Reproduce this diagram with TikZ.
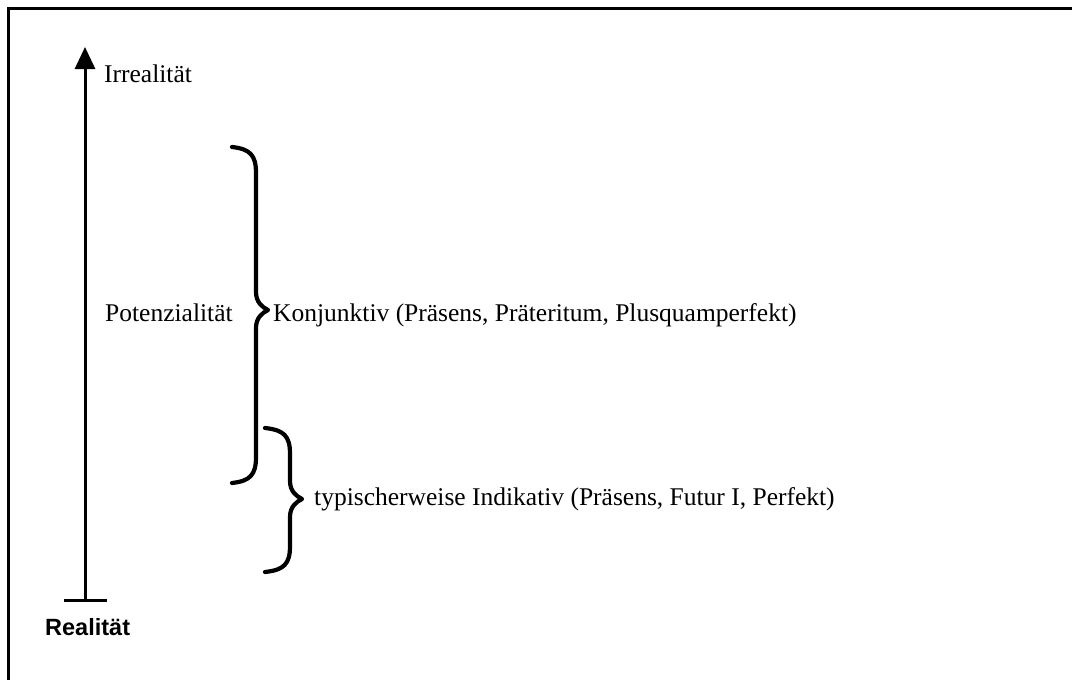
\documentclass[tikz,border=0pt]{standalone}
\usepackage{fontspec}
\setmainfont{Liberation Serif}
\newfontfamily\realfont{Liberation Sans}
\usetikzlibrary{arrows.meta, positioning}
% geschweifte Klammer: #1 Enden, #2 Koerper, #3 oben, #4 Spitze, #5 unten
\newcommand{\klammer}[5]{%
  \draw[klammerstrich] (#1,#3) .. controls (#2-6,#3+2) and (#2,#3+8) .. (#2,#3+26)
    -- (#2,#4-18) .. controls (#2,#4-8) and (#2+6,#4-3) .. (#2+12,#4)
    .. controls (#2+6,#4+3) and (#2,#4+8) .. (#2,#4+18)
    -- (#2,#5-26) .. controls (#2,#5-8) and (#2-6,#5-2) .. (#1,#5);}

\begin{document}
\begin{tikzpicture}[x=1pt, y=-1pt,
    beschriftung/.style={anchor=base west, inner sep=0pt, font=\fontsize{25.5}{30}\selectfont},
    klammerstrich/.style={line width=4.2pt, line cap=round, line join=round},
    achse/.style={line width=3pt}]
    \useasboundingbox (0,0) rectangle (1072,680);
    % Rahmen (nur oben und links sichtbar)
    \draw[line width=3pt] (8.5,680) -- (8.5,8.5) -- (1072,8.5);
    % Achse von Realitaet nach Irrealitaet
    \coordinate (real) at (85,600);
    \coordinate (irreal) at (85,47);
    \draw[achse, -{Triangle[length=22pt, width=20pt]}] (real) -- (irreal);
    \draw[achse] ([xshift=-21pt]real) -- ([xshift=22pt]real);
    \node[beschriftung] (irr) at (104,82) {Irrealität};
    \node[anchor=base west, inner sep=0pt, font=\realfont\bfseries\fontsize{23.5}{28}\selectfont] (rea) at (45,635) {Realität};
    \node[beschriftung] (pot) at (105,321) {Potenzialität};
    % Klammern
    \klammer{232}{256}{147}{310}{483}
    \klammer{265}{290}{428}{499}{572}
    \node[beschriftung] (konj) at (273,321) {Konjunktiv (Präsens, Präteritum, Plusquamperfekt)};
    \node[beschriftung] (ind) at (314,505) {typischerweise Indikativ (Präsens, Futur I, Perfekt)};
  \end{tikzpicture}
\end{document}
